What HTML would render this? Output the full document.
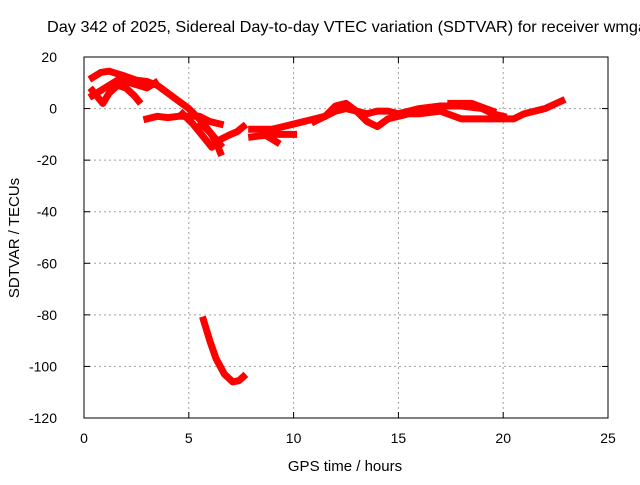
<!DOCTYPE html>
<html><head><meta charset="utf-8"><style>
body{margin:0;background:#fff}
svg text{font-family:"Liberation Sans",sans-serif;font-size:14px;fill:#000}
</style></head><body>
<svg id="chart" width="640" height="480">
<rect width="640" height="480" fill="#fff"/>
<text x="47" y="32" style="font-size:16px" textLength="600" lengthAdjust="spacingAndGlyphs">Day 342 of 2025, Sidereal Day-to-day VTEC variation (SDTVAR) for receiver wmga</text>
<g id="grid"></g><g id="series"></g>
<rect x="84" y="57" width="524" height="361" fill="none" stroke="#000" stroke-width="1"/>
<g id="ticks"></g>
<text x="345" y="471" text-anchor="middle" style="font-size:15px">GPS time / hours</text>
<text transform="translate(19,238) rotate(-90)" text-anchor="middle" style="font-size:15px">SDTVAR / TECUs</text>
</svg>
<script>
const xTicks=[0,5,10,15,20,25];
const yTicks=[20,0,-20,-40,-60,-80,-100,-120];
const seriesA=[[0.4,12],[0.8,14],[1.2,14.5],[1.8,13],[2.5,11],[3,10.5],[3.5,9],[4,6],[4.5,3],[5,0],[5.5,-4],[6,-9],[6.3,-13],[6.5,-17]];
const seriesB=[[0.4,7],[0.6,5],[0.9,2],[1.2,6],[1.6,9],[2,8],[2.4,5],[2.6,3]];
const seriesC=[[0.4,5],[1,8],[1.6,11],[2.2,10],[3,8],[3.4,10]];
const seriesD=[[3,-4],[3.5,-3],[4,-3.5],[4.5,-3],[5,-3],[5.5,-3],[6,-5],[6.5,-6]];
const seriesE=[[4.7,-2],[5.2,-6],[5.7,-11],[6.1,-15],[6.5,-12],[7,-10],[7.3,-9],[7.6,-7]];
const seriesF=[[5.6,-6],[6.1,-10],[6.5,-14]];
const seriesG=[[8,-8],[8.5,-8],[9,-8],[9.5,-7],[10,-6],[10.5,-5],[11,-4],[11.5,-3],[12,-1],[12.5,0],[13,-1],[13.5,-2],[14,-1],[14.5,-1],[15,-2],[15.5,-1],[16,0],[17,1],[18,1],[19,0],[19.5,-2],[20,-3]];
const seriesH=[[8,-11],[9,-10],[10,-10]];
const seriesI=[[8.6,-10],[9.2,-13]];
const seriesJ=[[11,-5],[11.5,-3],[12,1],[12.5,2],[13,-1],[13.5,-5],[14,-7],[14.5,-4],[15,-3],[15.5,-2],[16,-2],[17,-1],[18,-4],[19,-4],[20,-4],[20.5,-4],[21,-2],[22,0],[22.8,3]];
const seriesK=[[17.5,2],[18.5,2],[19.5,-1]];
const seriesL=[[5.7,-82],[6,-90],[6.3,-97],[6.7,-103],[7.1,-106],[7.4,-105.5],[7.6,-104]];
const allSeries=[seriesA,seriesB,seriesC,seriesD,seriesE,seriesF,seriesG,seriesH,seriesI,seriesJ,seriesK,seriesL];
const NS="http://www.w3.org/2000/svg";
const X=h=>84+h*(524/25);
const Y=v=>57+(20-v)*(361/140);
const grid=document.getElementById('grid'),ticks=document.getElementById('ticks'),ser=document.getElementById('series');
function mk(tag,attrs,parent){const e=document.createElementNS(NS,tag);for(const k in attrs)e.setAttribute(k,attrs[k]);parent.appendChild(e);return e;}
xTicks.forEach(t=>{
 if(t>0&&t<25){const g=mk('line',{x1:X(t),x2:X(t),y1:57,y2:418,stroke:'#a0a0a0','stroke-dasharray':'2,3'},grid);
 
 }
 const tx=mk('text',{x:X(t),y:443,'text-anchor':'middle'},ticks);tx.textContent=t;
 
 
 mk('line',{x1:X(t),x2:X(t),y1:418,y2:412,stroke:'#000'},ticks);
 mk('line',{x1:X(t),x2:X(t),y1:57,y2:63,stroke:'#000'},ticks);
});
yTicks.forEach(t=>{
 if(t<20&&t>-120){const g=mk('line',{x1:84,x2:608,y1:Y(t),y2:Y(t),stroke:'#a0a0a0','stroke-dasharray':'2,3'},grid);
 
 }
 const tx=mk('text',{x:57,y:Y(t)+5,'text-anchor':'end'},ticks);tx.textContent=t;
 
 
 mk('line',{x1:84,x2:90,y1:Y(t),y2:Y(t),stroke:'#000'},ticks);
 mk('line',{x1:608,x2:602,y1:Y(t),y2:Y(t),stroke:'#000'},ticks);
});
allSeries.forEach((s,i)=>{
 const p=mk('polyline',{points:s.map(d=>X(d[0])+','+Y(d[1])).join(' '),fill:'none',stroke:'#f00','stroke-width':7,'stroke-linejoin':'round','stroke-linecap':'square'},ser);
 
 
});
</script>
</body></html>
